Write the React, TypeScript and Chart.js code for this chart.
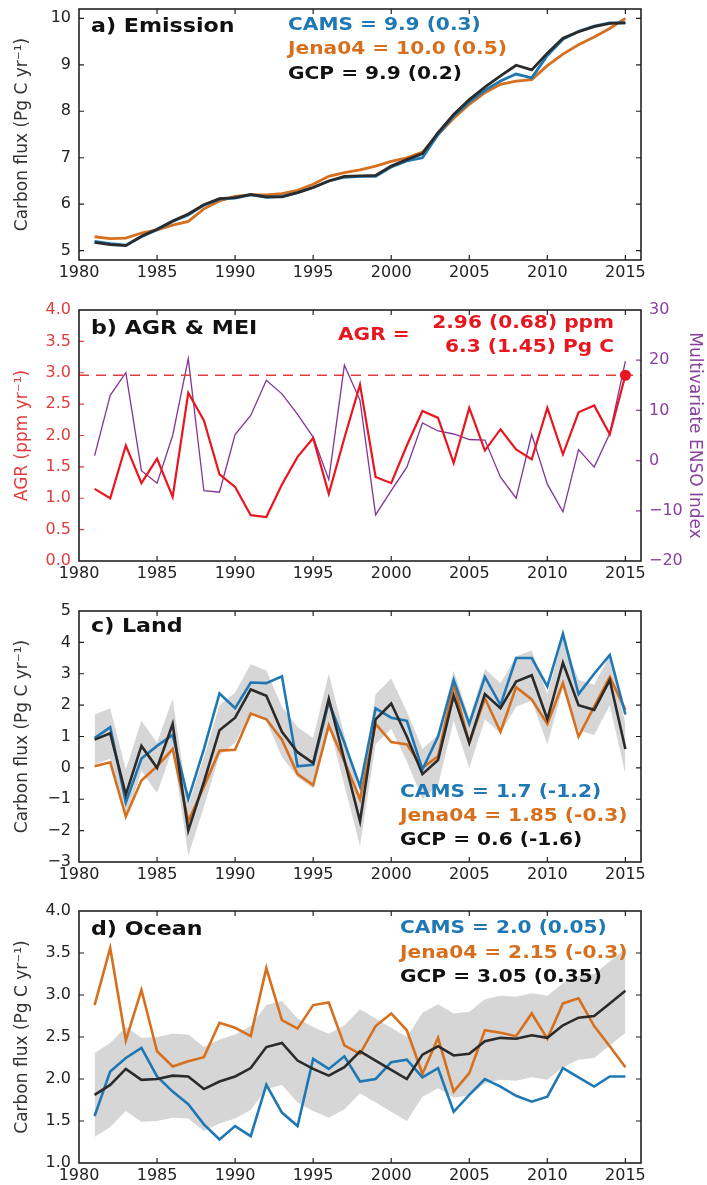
import React, { useEffect, useRef } from "react";
import { Chart, registerables } from "chart.js";

Chart.register(...registerables);

const FONT = "'DejaVu Sans', sans-serif";
const BLUE = "#1f78b4";
const ORANGE = "#d6701e";
const BLACK = "#2b2b2b";
const RED = "#e8161f";
const RED_TXT = "#e03c3c";
const PURPLE = "#82349a";
const PURPLE_TXT = "#8a3f9e";
const BAND = "#d6d6d6";
const AXIS = "#222222";
const TICK_COLOR = "#222222";

// ---------- shared categories ----------
const X_MIN = 1980;
const X_MAX = 2016;
const YEARS = [
  1981, 1982, 1983, 1984, 1985, 1986, 1987, 1988, 1989, 1990, 1991, 1992, 1993, 1994, 1995, 1996, 1997, 1998,
  1999, 2000, 2001, 2002, 2003, 2004, 2005, 2006, 2007, 2008, 2009, 2010, 2011, 2012, 2013, 2014, 2015,
];
const X_TICKS = [1980, 1985, 1990, 1995, 2000, 2005, 2010, 2015];

// ---------- a) Emission ----------
const EMI_TICKS = [5, 6, 7, 8, 9, 10];
const EMI_GCP = [
  5.18, 5.13, 5.11, 5.31, 5.46, 5.64, 5.79, 5.99, 6.12, 6.14, 6.21, 6.16, 6.16, 6.25, 6.36, 6.5, 6.6, 6.61, 6.62,
  6.82, 6.96, 7.09, 7.54, 7.93, 8.25, 8.52, 8.76, 8.99, 8.89, 9.25, 9.57, 9.71, 9.82, 9.89, 9.9,
];
const EMI_CAMS = [
  5.2, 5.15, 5.12, 5.3, 5.45, 5.63, 5.77, 5.98, 6.11, 6.13, 6.2, 6.15, 6.17, 6.25, 6.36, 6.5, 6.58, 6.6, 6.6, 6.8,
  6.93, 7.0, 7.5, 7.9, 8.2, 8.45, 8.65, 8.8, 8.72, 9.2, 9.55, 9.72, 9.83, 9.9, 9.9,
];
const EMI_JENA = [
  5.3, 5.26, 5.27, 5.38, 5.45, 5.55, 5.63, 5.9, 6.07, 6.17, 6.2, 6.2, 6.23, 6.3, 6.43, 6.6, 6.68, 6.74, 6.82, 6.92,
  7.0, 7.12, 7.5, 7.85, 8.15, 8.4, 8.58, 8.65, 8.68, 8.98, 9.23, 9.43, 9.6, 9.78, 10.0,
];

// ---------- b) AGR & MEI ----------
const AGR_TICKS = [0, 0.5, 1, 1.5, 2, 2.5, 3, 3.5, 4];
const MEI_TICKS = [-20, -10, 0, 10, 20, 30];
const AGR = [
  1.15, 1.0, 1.84, 1.24, 1.63, 1.02, 2.68, 2.24, 1.38, 1.18, 0.73, 0.7, 1.22, 1.66, 1.96, 1.07, 1.96, 2.81, 1.34,
  1.24, 1.84, 2.39, 2.28, 1.56, 2.44, 1.76, 2.1, 1.78, 1.62, 2.44, 1.7, 2.37, 2.48, 2.02, 2.96,
];
const MEI = [
  1, 13, 17.5, -2, -4.5, 5, 20.3, -6, -6.3, 5.2, 9, 16, 13.3, 9.2, 4.7, -3.8, 19, 12, -10.8, -6, -1.3, 7.5, 5.9,
  5.3, 4.2, 4.1, -3.3, -7.5, 5.2, -4.7, -10.2, 2.2, -1.3, 5.4, 19.8,
];
const AGR_2015 = 2.96;

// ---------- c) Land ----------
const LAND_TICKS = [-3, -2, -1, 0, 1, 2, 3, 4, 5];
const LAND_GCP = [
  0.9, 1.1, -0.85, 0.7, 0.0, 1.4, -2.0, -0.45, 1.2, 1.6, 2.5, 2.3, 1.15, 0.5, 0.15, 2.2, 0.25, -1.7, 1.55, 2.05,
  1.0, -0.2, 0.25, 2.3, 0.8, 2.35, 1.9, 2.75, 2.95, 1.55, 3.35, 2.0, 1.85, 2.8, 0.6,
];
const LAND_CAMS = [
  0.95, 1.3, -1.1, 0.3, 0.7, 1.05, -1.0, 0.6, 2.37, 1.9, 2.72, 2.7, 2.92, 0.05, 0.1, 2.1, 0.8, -0.6, 1.9, 1.6, 1.5,
  -0.05, 1.0, 2.8, 1.4, 2.9, 2.0, 3.5, 3.5, 2.6, 4.27, 2.35, 3.0, 3.6, 1.7,
];
const LAND_JENA = [
  0.05, 0.18, -1.55, -0.4, 0.05, 0.6, -1.7, -0.6, 0.55, 0.58, 1.73, 1.55, 0.9, -0.2, -0.55, 1.35, 0.2, -1.0, 1.4,
  0.82, 0.75, 0.0, 0.37, 2.65, 0.8, 2.22, 1.15, 2.57, 2.18, 1.4, 2.7, 1.0, 1.95, 2.9, 1.85,
];
const LAND_UPPER = [
  1.7, 1.9, -0.05, 1.5, 0.8, 2.2, -1.2, 0.35, 2.0, 2.4, 3.3, 3.1, 1.95, 1.3, 0.95, 3.0, 1.05, -0.9, 2.35, 2.85,
  1.8, 0.6, 1.05, 3.1, 1.6, 3.15, 2.7, 3.55, 3.75, 2.35, 4.15, 2.8, 2.65, 3.6, 1.4,
];
const LAND_LOWER = [
  0.1, 0.3, -1.65, -0.1, -0.8, 0.6, -2.8, -1.25, 0.4, 0.8, 1.7, 1.5, 0.35, -0.3, -0.65, 1.4, -0.55, -2.5, 0.75,
  1.25, 0.2, -1.0, -0.55, 1.5, 0.0, 1.55, 1.1, 1.95, 2.15, 0.75, 2.55, 1.2, 1.05, 2.0, -0.2,
];

// ---------- d) Ocean ----------
const OCEAN_TICKS = [1, 1.5, 2, 2.5, 3, 3.5, 4];
const OCEAN_GCP = [
  1.81, 1.93, 2.12, 1.99, 2.0, 2.04, 2.03, 1.88, 1.97, 2.03, 2.13, 2.38, 2.43, 2.22, 2.12, 2.04, 2.14, 2.33, 2.22,
  2.11, 2.0, 2.29, 2.39, 2.28, 2.3, 2.45, 2.49, 2.48, 2.52, 2.49, 2.64, 2.73, 2.75, 2.9, 3.05,
];
const OCEAN_CAMS = [
  1.56, 2.09, 2.25, 2.37, 2.03, 1.85, 1.7, 1.46, 1.28, 1.44, 1.32, 1.93, 1.6, 1.44, 2.24, 2.12, 2.27, 1.97, 2.0,
  2.2, 2.23, 2.02, 2.13, 1.61, 1.81, 2.0, 1.91, 1.8, 1.73, 1.79, 2.13, 2.02, 1.91, 2.03, 2.03,
];
const OCEAN_JENA = [
  2.88, 3.56, 2.46, 3.06, 2.33, 2.15, 2.21, 2.26, 2.67, 2.61, 2.51, 3.32, 2.7, 2.6, 2.88, 2.91, 2.4, 2.3, 2.63,
  2.78, 2.58, 2.06, 2.49, 1.85, 2.07, 2.58, 2.55, 2.51, 2.78, 2.48, 2.9, 2.96, 2.63, 2.39, 2.14,
];
const OCEAN_UPPER = [
  2.31, 2.43, 2.62, 2.49, 2.5, 2.54, 2.53, 2.38, 2.47, 2.53, 2.63, 2.88, 2.93, 2.72, 2.62, 2.54, 2.64, 2.83, 2.72,
  2.61, 2.5, 2.79, 2.89, 2.78, 2.8, 2.95, 2.99, 2.98, 3.02, 2.99, 3.14, 3.23, 3.25, 3.4, 3.55,
];
const OCEAN_LOWER = [
  1.31, 1.43, 1.62, 1.49, 1.5, 1.54, 1.53, 1.38, 1.47, 1.53, 1.63, 1.88, 1.93, 1.72, 1.62, 1.54, 1.64, 1.83, 1.72,
  1.61, 1.5, 1.79, 1.89, 1.78, 1.8, 1.95, 1.99, 1.98, 2.02, 1.99, 2.14, 2.23, 2.25, 2.4, 2.55,
];

// ---------- helpers ----------
const pts = (vals: number[]) => YEARS.map((x, i) => ({ x, y: vals[i] }));
const fmt1 = (v: number) => (v < 0 ? "\u2212" : "") + Math.abs(v).toFixed(1);
const fmtInt = (v: number) => (v < 0 ? "\u2212" : "") + String(Math.abs(v));

const line = (vals: number[], color: string, width = 2.6) => ({
  data: pts(vals),
  borderColor: color,
  borderWidth: width,
  pointRadius: 0,
  tension: 0,
  fill: false,
});

const bandUpper = (vals: number[]) => ({
  data: pts(vals),
  borderColor: "rgba(0,0,0,0)",
  borderWidth: 0,
  backgroundColor: BAND,
  pointRadius: 0,
  tension: 0,
  fill: "+1",
});
const bandLower = (vals: number[]) => ({
  data: pts(vals),
  borderColor: "rgba(0,0,0,0)",
  borderWidth: 0,
  pointRadius: 0,
  tension: 0,
  fill: false,
});

type TickSpec = { id: string; values: number[]; color: string; sides: string[] };
type TextItem = { text: string; x: number; y: number; color: string; align?: CanvasTextAlign; size?: number };

function framePlugin(ySpecs: TickSpec[]) {
  return {
    id: "frameTicks",
    afterDatasetsDraw(chart: any) {
      const { ctx, chartArea: a, scales } = chart;
      const L = 5;
      ctx.save();
      ctx.lineWidth = 1.2;
      ctx.strokeStyle = AXIS;
      ctx.beginPath();
      for (const v of X_TICKS) {
        const px = scales.x.getPixelForValue(v);
        if (px <= a.left + 1 || px >= a.right - 1) continue;
        ctx.moveTo(px, a.bottom);
        ctx.lineTo(px, a.bottom - L);
        ctx.moveTo(px, a.top);
        ctx.lineTo(px, a.top + L);
      }
      ctx.stroke();
      for (const s of ySpecs) {
        const sc = scales[s.id];
        ctx.strokeStyle = s.color;
        ctx.beginPath();
        for (const v of s.values) {
          const py = sc.getPixelForValue(v);
          if (py <= a.top + 1 || py >= a.bottom - 1) continue;
          if (s.sides.includes("left")) {
            ctx.moveTo(a.left, py);
            ctx.lineTo(a.left + L, py);
          }
          if (s.sides.includes("right")) {
            ctx.moveTo(a.right, py);
            ctx.lineTo(a.right - L, py);
          }
        }
        ctx.stroke();
      }
      ctx.lineWidth = 1.6;
      ctx.strokeStyle = AXIS;
      ctx.strokeRect(a.left, a.top, a.right - a.left, a.bottom - a.top);
      ctx.restore();
    },
  };
}

function textPlugin(items: TextItem[]) {
  return {
    id: "panelTexts",
    afterDraw(chart: any) {
      const { ctx } = chart;
      for (const it of items) {
        ctx.save();
        ctx.font = `bold ${it.size || 18}px ${FONT}`;
        ctx.fillStyle = it.color;
        ctx.textBaseline = "middle";
        ctx.textAlign = it.align || "left";
        ctx.translate(it.x, it.y);
        ctx.scale(1.12, 1);
        ctx.fillText(it.text, 0, 0);
        ctx.restore();
      }
    },
  };
}

function xScale(xH: number) {
  return {
    type: "linear",
    min: X_MIN,
    max: X_MAX,
    bounds: "data",
    grid: { display: false, drawTicks: false },
    border: { display: false },
    ticks: {
      font: { family: FONT, size: 16 },
      color: TICK_COLOR,
      padding: 3,
      autoSkip: false,
      maxRotation: 0,
      minRotation: 0,
      callback: (v: number) => String(v),
    },
    afterBuildTicks: (s: any) => {
      s.ticks = X_TICKS.map((value) => ({ value }));
    },
    afterFit: (s: any) => {
      s.height = xH;
      s.paddingLeft = 0;
      s.paddingRight = 0;
      s.paddingTop = 0;
      s.paddingBottom = 0;
    },
  };
}

function yScale(o: {
  min: number;
  max: number;
  ticks: number[];
  fmt: (v: number) => string;
  title: string;
  color: string;
  titleColor: string;
  position?: string;
  width: number;
  titlePad: number;
}) {
  return {
    type: "linear",
    position: o.position || "left",
    min: o.min,
    max: o.max,
    bounds: "data",
    grid: { display: false, drawTicks: false },
    border: { display: false },
    ticks: {
      font: { family: FONT, size: 16, lineHeight: 1 },
      color: o.color,
      padding: 8,
      callback: (v: number) => o.fmt(v),
    },
    title: {
      display: true,
      text: o.title,
      color: o.titleColor,
      font: { family: FONT, size: 17 },
      padding: { top: o.titlePad, bottom: 0 },
    },
    afterBuildTicks: (s: any) => {
      s.ticks = o.ticks.map((value) => ({ value }));
    },
    afterFit: (s: any) => {
      s.width = o.width;
      s.paddingLeft = 0;
      s.paddingRight = 0;
      s.paddingTop = 0;
      s.paddingBottom = 0;
    },
  };
}

function baseOptions(padTop: number, padRight: number, scales: any) {
  return {
    responsive: false,
    animation: false,
    devicePixelRatio: 1,
    events: [],
    layout: { padding: { top: padTop, right: padRight, bottom: 0, left: 0 } },
    plugins: { legend: { display: false }, tooltip: { enabled: false } },
    scales,
  };
}

const CARBON_TITLE = "Carbon flux (Pg C yr\u207B\u00B9)";
const TITLE_SIZE = 19.8;

function makeEmission() {
  return {
    type: "line",
    data: {
      datasets: [line(EMI_GCP, BLACK, 2.8), line(EMI_CAMS, BLUE, 2.8), line(EMI_JENA, ORANGE, 2.8)],
    },
    options: baseOptions(9, 66, {
      x: xScale(40),
      y: yScale({
        min: 4.8,
        max: 10.2,
        ticks: EMI_TICKS,
        fmt: fmtInt,
        title: CARBON_TITLE,
        color: TICK_COLOR,
        titleColor: "#333",
        width: 79,
        titlePad: 12,
      }),
    }),
    plugins: [
      framePlugin([{ id: "y", values: EMI_TICKS, color: AXIS, sides: ["left", "right"] }]),
      textPlugin([
        { text: "a) Emission", x: 91, y: 27, color: "#111", size: TITLE_SIZE },
        { text: "CAMS = 9.9 (0.3)", x: 288, y: 25, color: BLUE },
        { text: "Jena04 = 10.0 (0.5)", x: 288, y: 49, color: ORANGE },
        { text: "GCP = 9.9 (0.2)", x: 288, y: 74, color: "#111" },
      ]),
    ],
  };
}

function makeAgr() {
  return {
    type: "line",
    data: {
      datasets: [
        {
          data: [{ x: YEARS[YEARS.length - 1], y: AGR_2015 }],
          showLine: false,
          pointRadius: 5.5,
          pointBackgroundColor: RED,
          pointBorderWidth: 0,
          borderColor: RED,
        },
        line(AGR, RED, 2.2),
        {
          data: [
            { x: X_MIN, y: AGR_2015 },
            { x: X_MAX, y: AGR_2015 },
          ],
          borderColor: RED_TXT,
          borderWidth: 1.4,
          borderDash: [10, 7],
          pointRadius: 0,
          fill: false,
        },
        { ...line(MEI, PURPLE, 1.3), yAxisID: "y2" },
      ],
    },
    options: baseOptions(10, 0, {
      x: xScale(39),
      y: yScale({
        min: 0,
        max: 4,
        ticks: AGR_TICKS,
        fmt: fmt1,
        title: "AGR (ppm yr\u207B\u00B9)",
        color: RED_TXT,
        titleColor: RED_TXT,
        width: 79,
        titlePad: 12,
      }),
      y2: yScale({
        min: -20,
        max: 30,
        ticks: MEI_TICKS,
        fmt: fmtInt,
        title: "Multivariate ENSO Index",
        color: PURPLE_TXT,
        titleColor: PURPLE_TXT,
        position: "right",
        width: 66,
        titlePad: 2,
      }),
    }),
    plugins: [
      framePlugin([
        { id: "y", values: AGR_TICKS, color: RED_TXT, sides: ["left"] },
        { id: "y2", values: MEI_TICKS, color: PURPLE_TXT, sides: ["right"] },
      ]),
      textPlugin([
        { text: "b) AGR & MEI", x: 91, y: 29, color: "#111", size: TITLE_SIZE },
        { text: "AGR =", x: 338, y: 35, color: RED },
        { text: "2.96 (0.68) ppm", x: 614, y: 23, color: RED, align: "right" },
        { text: "6.3 (1.45) Pg C", x: 614, y: 47, color: RED, align: "right" },
      ]),
    ],
  };
}

function makeLand() {
  return {
    type: "line",
    data: {
      datasets: [
        line(LAND_GCP, BLACK),
        line(LAND_CAMS, BLUE),
        line(LAND_JENA, ORANGE),
        bandUpper(LAND_UPPER),
        bandLower(LAND_LOWER),
      ],
    },
    options: baseOptions(11, 66, {
      x: xScale(38),
      y: yScale({
        min: -3,
        max: 5,
        ticks: LAND_TICKS,
        fmt: fmtInt,
        title: CARBON_TITLE,
        color: TICK_COLOR,
        titleColor: "#333",
        width: 79,
        titlePad: 12,
      }),
    }),
    plugins: [
      framePlugin([{ id: "y", values: LAND_TICKS, color: AXIS, sides: ["left", "right"] }]),
      textPlugin([
        { text: "c) Land", x: 91, y: 27, color: "#111", size: TITLE_SIZE },
        { text: "CAMS = 1.7 (-1.2)", x: 400, y: 192, color: BLUE },
        { text: "Jena04 = 1.85 (-0.3)", x: 400, y: 216, color: ORANGE },
        { text: "GCP = 0.6 (-1.6)", x: 400, y: 240, color: "#111" },
      ]),
    ],
  };
}

function makeOcean() {
  return {
    type: "line",
    data: {
      datasets: [
        line(OCEAN_GCP, BLACK),
        line(OCEAN_CAMS, BLUE),
        line(OCEAN_JENA, ORANGE),
        bandUpper(OCEAN_UPPER),
        bandLower(OCEAN_LOWER),
      ],
    },
    options: baseOptions(11, 66, {
      x: xScale(22),
      y: yScale({
        min: 1,
        max: 4,
        ticks: OCEAN_TICKS,
        fmt: fmt1,
        title: CARBON_TITLE,
        color: TICK_COLOR,
        titleColor: "#333",
        width: 79,
        titlePad: 12,
      }),
    }),
    plugins: [
      framePlugin([{ id: "y", values: OCEAN_TICKS, color: AXIS, sides: ["left", "right"] }]),
      textPlugin([
        { text: "d) Ocean", x: 91, y: 30, color: "#111", size: TITLE_SIZE },
        { text: "CAMS = 2.0 (0.05)", x: 400, y: 28, color: BLUE },
        { text: "Jena04 = 2.15 (-0.3)", x: 400, y: 53, color: ORANGE },
        { text: "GCP = 3.05 (0.35)", x: 400, y: 77, color: "#111" },
      ]),
    ],
  };
}

function ChartCanvas({ top, height, make }: { top: number; height: number; make: () => any }) {
  const ref = useRef<HTMLCanvasElement | null>(null);
  useEffect(() => {
    if (!ref.current) return;
    const chart = new Chart(ref.current, make());
    return () => chart.destroy();
  }, []);
  return (
    <canvas
      ref={ref}
      width={707}
      height={height}
      style={{ position: "absolute", left: 0, top, width: 707, height, display: "block" }}
    />
  );
}

export default function App() {
  return (
    <div style={{ position: "absolute", left: 0, top: 0, width: 707, height: 1185, background: "#ffffff" }}>
      <ChartCanvas top={0} height={300} make={makeEmission} />
      <ChartCanvas top={300} height={300} make={makeAgr} />
      <ChartCanvas top={600} height={300} make={makeLand} />
      <ChartCanvas top={900} height={285} make={makeOcean} />
    </div>
  );
}
